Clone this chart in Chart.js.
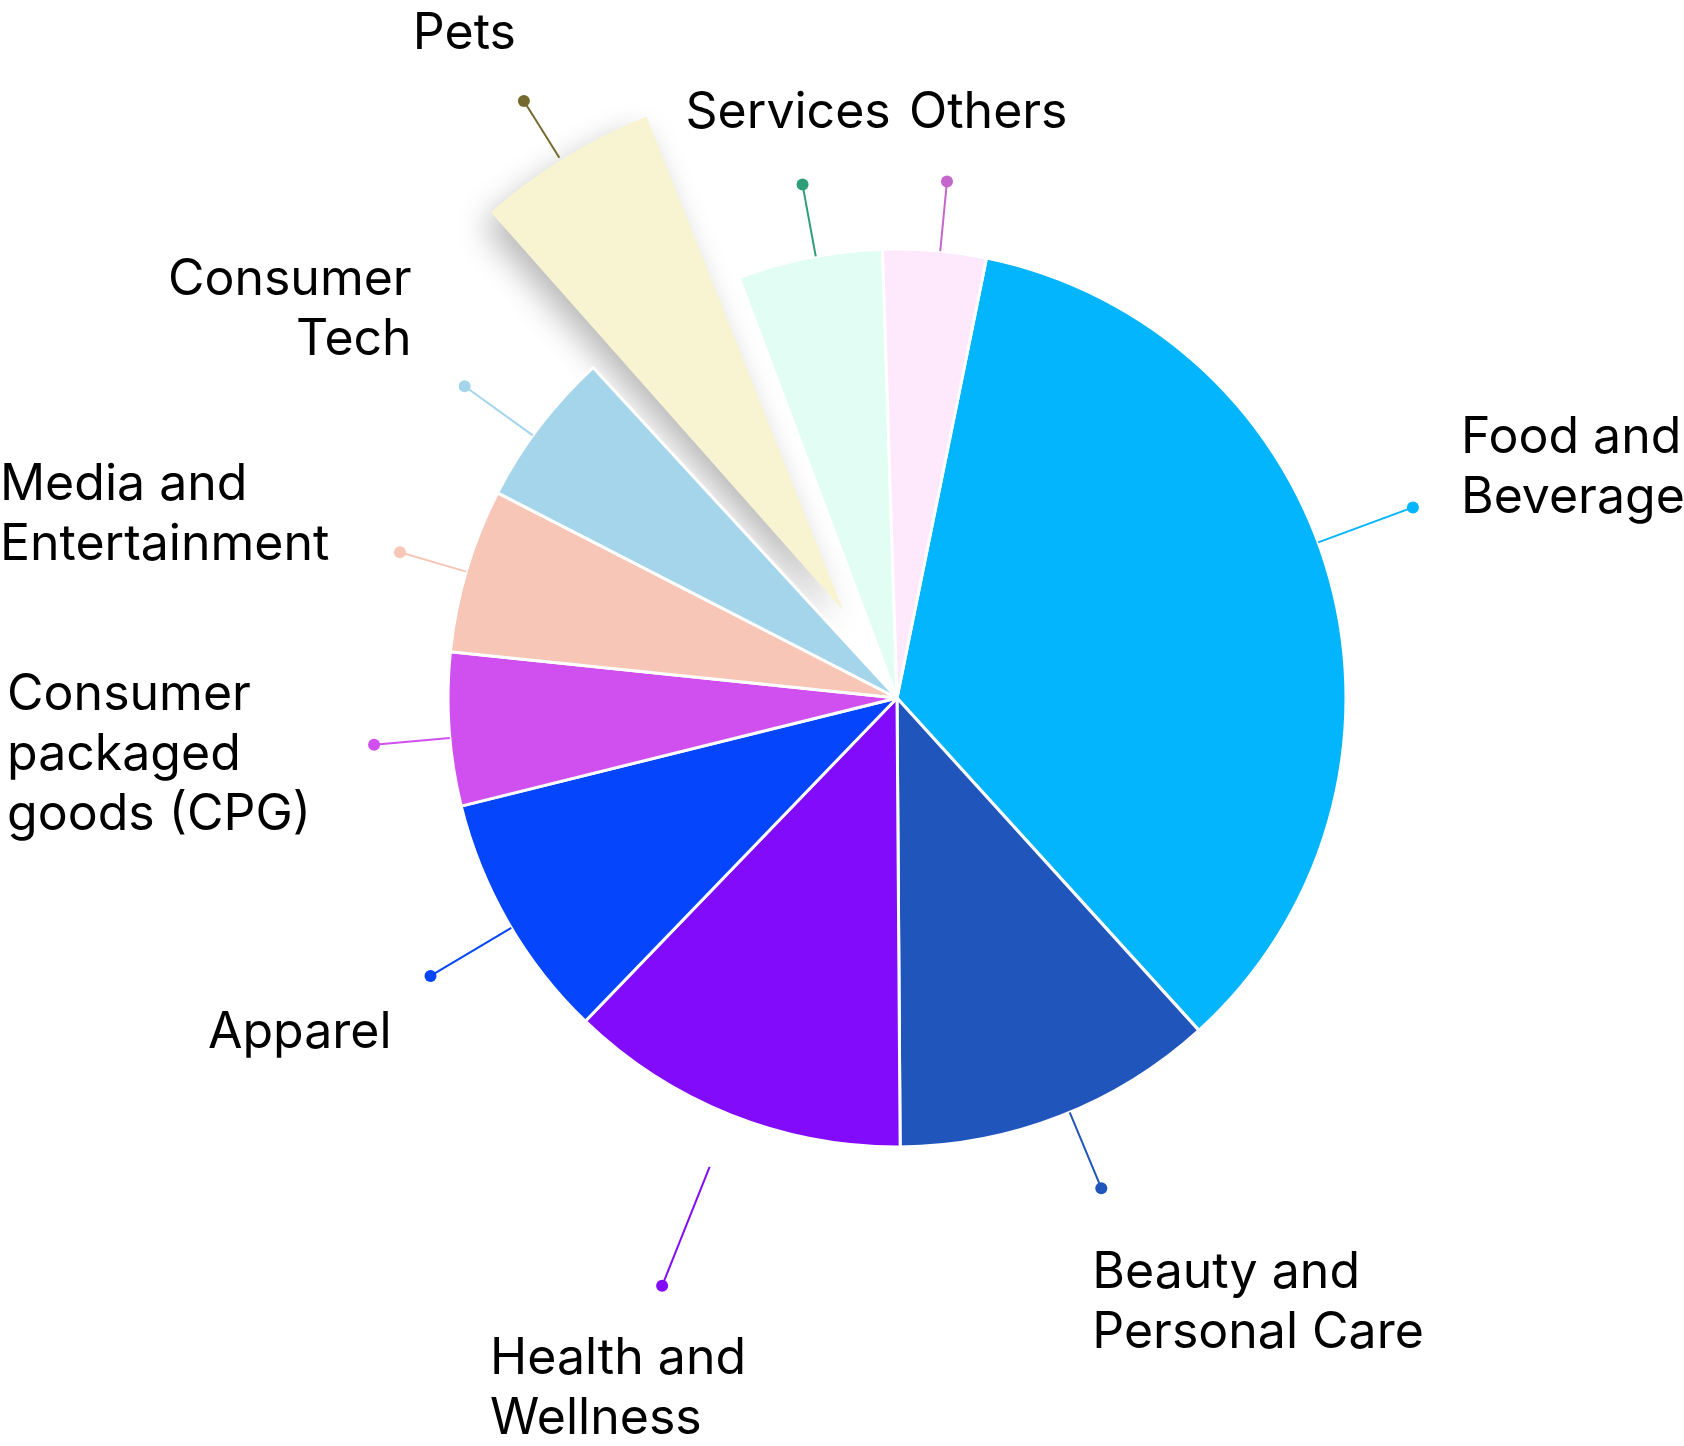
<!DOCTYPE html>
<html>
<head>
<meta charset="utf-8">
<script src="https://cdn.jsdelivr.net/npm/chart.js"></script>
<style>
  html, body { margin: 0; padding: 0; background: #fff; }
  #wrap { width: 1684px; height: 1446px; position: relative; }
</style>
</head>
<body>
<div id="wrap"><canvas id="grafica"></canvas></div>
<script>
// Datos
const CATEGORIAS = [
  "Food and Beverage",
  "Beauty and Personal Care",
  "Health and Wellness",
  "Apparel",
  "Consumer packaged goods (CPG)",
  "Media and Entertainment",
  "Consumer Tech",
  "Pets",
  "Services",
  "Others",
];
const VALORES = [35.0, 11.6, 12.3, 8.9, 5.5, 5.9, 5.6, 6.1, 5.2, 3.7];
const ETIQUETAS = [
  ["Food and", "Beverage"],
  ["Beauty and", "Personal Care"],
  ["Health and", "Wellness"],
  ["Apparel"],
  ["Consumer", "packaged", "goods (CPG)"],
  ["Media and", "Entertainment"],
  ["Consumer", "Tech"],
  ["Pets"],
  ["Services"],
  ["Others"],
];
const DESTACADO = "Pets";

// Colores
const COLORES = [
  "#03B5FD", "#2055BC", "#820BFC", "#0545FC", "#CF50EF",
  "#F8C6B7", "#A5D5EB", "#F8F4D2", "#E2FDF4", "#FDE8FC",
];
const COLORES_LINEA = [
  "#03B5FD", "#2055BC", "#820BFC", "#0545FC", "#CF50EF",
  "#F8C6B7", "#A5D5EB", "#756A2E", "#2E9E78", "#C466CC",
];

// Posicion de lineas y textos (relativa al punto)
const DISPOSICION = [
  { da: -4.9, d0: 0, d1: 101, dx: 48, dy: -54, align: "left" },
  { da: -1.3, d0: 0, d1: 82, dx: -9, dy: 100, align: "left" },
  { da: 0, d0: 56, d1: 184, dx: -172, dy: 88, align: "left" },
  { da: -0.8, d0: 0, d1: 94, dx: -39, dy: 72, align: "right" },
  { da: -1.1, d0: 0, d1: 76, dx: -367, dy: -35, align: "left" },
  { da: -0.2, d0: 0, d1: 69, dx: -400, dy: -52, align: "left" },
  { da: -1.5, d0: 0, d1: 84, dx: -53, dy: -91, align: "right" },
  { da: -0.4, d0: 171, d1: 238, dx: -111, dy: -52, align: "left" },
  { da: 0.8, d0: 0, d1: 73, dx: -117, dy: -57, align: "left" },
  { da: 0.7, d0: 0, d1: 70, dx: -38, dy: -53, align: "left" },
];

// Porcion destacada un poco mas grande
const destacadoPlugin = {
  id: "destacado",
  afterDatasetsUpdate(chart) {
    let i = CATEGORIAS.indexOf(DESTACADO);
    let arc = chart.getDatasetMeta(0).data[i];
    arc.outerRadius += 17;
  },
  beforeDatasetsDraw(chart) {
    // sombra
    let i = CATEGORIAS.indexOf(DESTACADO);
    let arc = chart.getDatasetMeta(0).data[i];
    let ctx = chart.ctx;
    ctx.save();
    ctx.shadowColor = "rgba(0,0,0,0.28)";
    ctx.shadowBlur = 32;
    ctx.shadowOffsetX = -8;
    ctx.shadowOffsetY = 14;
    arc.draw(ctx);
    ctx.restore();
  },
};

// Lineas guia, puntos y textos
const etiquetasPlugin = {
  id: "etiquetas",
  afterDatasetsDraw(chart) {
    let ctx = chart.ctx;
    let meta = chart.getDatasetMeta(0);
    meta.data.forEach((arc, i) => {
      let cfg = DISPOSICION[i];
      let ang = (arc.startAngle + arc.endAngle) / 2 + (cfg.da * Math.PI) / 180;
      let cos = Math.cos(ang);
      let sin = Math.sin(ang);
      let r0 = arc.outerRadius + cfg.d0;
      let r1 = arc.outerRadius + cfg.d1;
      let x1 = arc.x + cos * r1;
      let y1 = arc.y + sin * r1;
      ctx.save();
      ctx.strokeStyle = COLORES_LINEA[i];
      ctx.lineWidth = 2;
      ctx.beginPath();
      ctx.moveTo(arc.x + cos * r0, arc.y + sin * r0);
      ctx.lineTo(x1, y1);
      ctx.stroke();
      ctx.fillStyle = COLORES_LINEA[i];
      ctx.beginPath();
      ctx.arc(x1, y1, 6, 0, Math.PI * 2);
      ctx.fill();
      ctx.fillStyle = "#000";
      ctx.font = "50px Inter";
      ctx.textAlign = cfg.align;
      ctx.textBaseline = "alphabetic";
      ETIQUETAS[i].forEach((t, k) => {
        ctx.fillText(t, x1 + cfg.dx, y1 + cfg.dy + k * 60);
      });
      ctx.restore();
    });
  },
};

function grafica_pastel(id) {
  let chart = new Chart(id, {
    type: "pie",
    data: {
      labels: CATEGORIAS,
      datasets: [
        {
          data: VALORES,
          backgroundColor: COLORES,
          borderColor: "#ffffff",
          borderWidth: CATEGORIAS.map((c) => (c === DESTACADO ? 0 : 3)),
          radius: 449,
          offset: CATEGORIAS.map((c) => (c === DESTACADO ? 414 : 0)),
        },
      ],
    },
    options: {
      responsive: true,
      maintainAspectRatio: false,
      animation: false,
      events: [],
      rotation: 11.5,
      layout: { padding: { left: 110, right: 0, top: 0, bottom: 50 } },
      plugins: {
        legend: { display: false },
        tooltip: { enabled: false },
      },
    },
    plugins: [destacadoPlugin, etiquetasPlugin],
  });
  return chart;
}

grafica_pastel(document.getElementById("grafica"));
</script>
</body>
</html>
